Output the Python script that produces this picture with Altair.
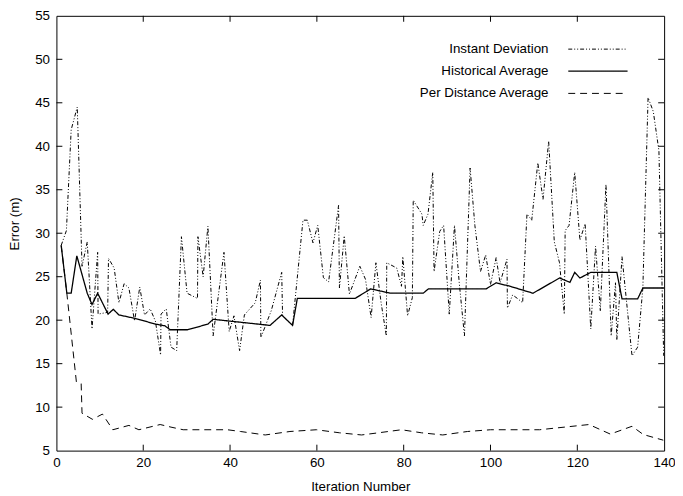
import altair as alt
import pandas as pd

# ---- data ----
inst_x = [1.1, 2.3, 3.4, 4.8, 5.9, 7.1, 8.2, 9.5, 9.6, 11.8, 12.0, 13.3, 14.4, 15.6, 16.7, 18.0,
          19.2, 20.3, 21.6, 22.8, 24.0, 24.1, 25.3, 26.4, 27.7, 28.8, 30.1, 32.5, 32.6, 33.8, 34.9,
          36.1, 38.6, 39.8, 40.9, 42.2, 43.3, 45.8, 47.0, 47.1, 49.5, 51.9, 52.1, 54.4, 56.8, 57.8,
          59.1, 60.2, 61.5, 62.7, 65.0, 65.2, 66.3, 67.5, 69.9, 71.2, 72.5, 73.6, 74.8, 76.0, 76.1,
          78.4, 79.5, 79.8, 80.9, 82.0, 82.2, 84.2, 84.5, 85.6, 86.7, 87.0, 88.3, 89.2, 90.5, 91.7,
          92.8, 94.0, 95.3, 96.4, 97.7, 98.9, 100.0, 101.3, 102.2, 103.8, 103.9, 105.1, 106.2, 107.4,
          108.4, 109.5, 110.9, 112.1, 113.4, 114.7, 115.9, 117.0, 117.2, 118.1, 119.4, 120.6, 121.8,
          123.1, 124.2, 125.3, 126.6, 127.8, 128.8, 129.1, 130.3, 132.6, 133.9, 135.1, 136.3, 137.5,
          138.8, 139.9]
inst_y = [28.6, 30.3, 41.9, 44.5, 26.2, 29.0, 19.0, 27.8, 20.7, 20.9, 27.1, 26.0, 22.0, 24.2, 23.7, 19.9,
          23.8, 20.6, 21.3, 19.9, 16.0, 20.7, 21.3, 16.9, 16.5, 29.6, 23.1, 22.5, 29.6, 25.0, 30.8,
          18.2, 27.8, 18.7, 20.5, 16.5, 20.6, 22.0, 24.6, 18.0, 21.1, 25.5, 20.5, 19.4, 31.5, 31.5,
          28.9, 30.9, 24.9, 24.4, 33.2, 23.7, 29.7, 23.0, 26.2, 24.7, 20.3, 26.6, 22.0, 18.2, 26.6,
          26.0, 23.9, 27.3, 20.5, 22.6, 33.8, 32.2, 30.9, 32.2, 37.0, 25.6, 30.2, 30.9, 20.7, 30.9,
          24.3, 18.2, 37.5, 30.9, 25.6, 27.5, 24.1, 27.2, 24.3, 27.0, 21.4, 22.9, 22.5, 22.0,
          32.2, 31.5, 38.1, 33.9, 40.6, 29.0, 26.6, 20.7, 30.3, 30.9, 37.0, 29.2, 31.1,
          19.0, 28.5, 21.1, 35.6, 18.2, 24.3, 17.7, 27.3, 15.9, 16.9, 23.7, 45.6, 44.0,
          39.5, 15.9]

hist_x = [1.1, 2.4, 3.4, 4.7, 7.1, 8.2, 9.5, 11.9, 13.1, 14.4, 18.2, 22.8, 25.0, 26.2, 30.2, 34.9,
          36.1, 49.2, 51.9, 54.4, 55.5, 68.8, 72.4, 76.9, 84.5, 85.7, 99.0, 101.3, 104.5, 109.8,
          115.9, 118.3, 119.4, 120.6, 123.1, 129.1, 130.3, 133.9, 135.1, 140.0]
hist_y = [28.6, 23.1, 23.1, 27.4, 23.1, 21.8, 23.1, 20.7, 21.25, 20.6, 20.2, 19.55, 19.35, 18.9, 18.9, 19.55,
          20.1, 19.4, 20.6, 19.4, 22.5, 22.5, 23.6, 23.1, 23.1, 23.6, 23.6, 24.3, 23.9, 23.1,
          24.85, 24.35, 25.5, 24.85, 25.5, 25.5, 22.45, 22.45, 23.7, 23.7]

pda_x = [1.1, 2.4, 4.6, 5.7, 5.9, 8.3, 10.6, 13.0, 16.7, 19.0, 23.9, 26.4, 29.2, 39.4, 42.4, 48.1,
         53.8, 59.9, 65.2, 70.3, 74.2, 79.5, 84.1, 89.0, 94.7, 100.0, 111.3, 122.7, 127.6, 132.6,
         135.2, 139.8]
pda_y = [28.6, 23.1, 12.9, 12.7, 9.3, 8.6, 9.2, 7.4, 7.9, 7.4, 8.0, 7.7, 7.4, 7.4, 7.2, 6.8,
         7.2, 7.4, 7.05, 6.8, 7.05, 7.4, 7.05, 6.8, 7.2, 7.4, 7.4, 8.0, 6.9, 7.8,
         6.85, 6.2]

series_names = ["Instant Deviation", "Historical Average", "Per Distance Average"]
x_ticks = [0, 20, 40, 60, 80, 100, 120, 140]
y_ticks = [5, 10, 15, 20, 25, 30, 35, 40, 45, 50, 55]
x_title = "Iteration Number"
y_title = "Error (m)"

# ---- styles ----
FONT = "Liberation Sans"
FS = 13.5
W, H = 615, 440
dashes = [[4, 2, 1, 2, 1, 2], [1, 0], [7, 5]]
widths = [1.0, 1.3, 1.0]

xenc = alt.X("x:Q", scale=alt.Scale(domain=[0, 140], nice=False, zero=False),
             axis=alt.Axis(values=x_ticks, title=x_title, ticks=False, tickSize=0, domain=False,
                           grid=False, labelPadding=5, titleY=36, titleBaseline="middle",
                           labelFlush=False, labelFont=FONT, labelFontSize=FS, labelColor="black",
                           titleFont=FONT, titleFontSize=FS, titleColor="black",
                           titleFontWeight="normal"))
yenc = alt.Y("y:Q", scale=alt.Scale(domain=[5, 55], nice=False, zero=False),
             axis=alt.Axis(values=y_ticks, title=y_title, ticks=False, tickSize=0, domain=False,
                           grid=False, labelPadding=7, titleX=-42, titleY=210,
                           titleBaseline="middle", titleAngle=270,
                           labelFont=FONT, labelFontSize=FS, labelColor="black",
                           titleFont=FONT, titleFontSize=FS, titleColor="black",
                           titleFontWeight="normal"))

frames = [
    pd.DataFrame({"x": inst_x, "y": inst_y}),
    pd.DataFrame({"x": hist_x, "y": hist_y}),
    pd.DataFrame({"x": pda_x, "y": pda_y}),
]

layers = []
for df, d, w in zip(frames, dashes, widths):
    layers.append(
        alt.Chart(df).mark_line(color="black", strokeWidth=w, strokeDash=d).encode(x=xenc, y=yenc)
    )

# inward ticks on all four sides
xt = pd.DataFrame({"x": x_ticks[1:-1]})
yt = pd.DataFrame({"y": y_ticks[1:-1]})
TL = 6
layers.append(alt.Chart(xt).mark_rule(color="black", strokeWidth=1).encode(
    x=xenc, y=alt.value(H), y2=alt.value(H - TL)))
layers.append(alt.Chart(xt).mark_rule(color="black", strokeWidth=1).encode(
    x=xenc, y=alt.value(0), y2=alt.value(TL)))
layers.append(alt.Chart(yt).mark_rule(color="black", strokeWidth=1).encode(
    y=yenc, x=alt.value(0), x2=alt.value(TL)))
layers.append(alt.Chart(yt).mark_rule(color="black", strokeWidth=1).encode(
    y=yenc, x=alt.value(W), x2=alt.value(W - TL)))

# legend (label left of line sample, gnuplot style)
leg_y = [33.7, 56.0, 78.5]
for name, d, w, ly in zip(series_names, dashes, widths, leg_y):
    ldf = pd.DataFrame({"t": [name]})
    layers.append(alt.Chart(ldf).mark_text(align="right", baseline="middle", font=FONT,
                                           fontSize=FS, color="black").encode(
        text="t:N", x=alt.value(498), y=alt.value(ly)))
    layers.append(alt.Chart(ldf).mark_rule(color="black", strokeWidth=w, strokeDash=d).encode(
        x=alt.value(518), x2=alt.value(578), y=alt.value(ly)))

chart = alt.layer(*layers).properties(
    width=W, height=H,
    background="white",
    autosize=alt.AutoSizeParams(type="none"),
    padding={"left": 49, "top": 5, "right": 11, "bottom": 43},
).configure_view(
    stroke="black", strokeWidth=1
)

chart.save("out.html", embed_options={"renderer": "svg", "actions": False})
